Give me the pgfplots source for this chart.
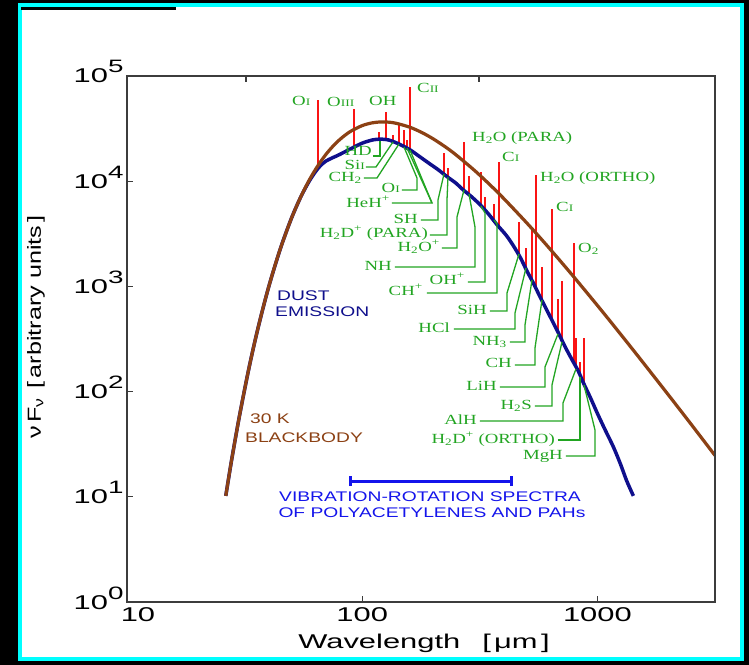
\documentclass[border=0pt]{standalone}
\usepackage{pgfplots}
\usepackage{pgfplotstable}
\pgfplotsset{compat=1.18}
\usepackage{fontspec}
\newfontfamily\axf[FakeStretch=1.55]{Liberation Sans}
\newfontfamily\ylf[FakeStretch=1.33]{Liberation Sans}
\newfontfamily\txf[FakeStretch=1.38]{Liberation Sans}
\newfontfamily\grf[FakeStretch=1.35]{Liberation Serif}
\definecolor{bbrown}{RGB}{140,65,20}
\definecolor{dnavy}{RGB}{15,15,140}
\definecolor{bblue}{RGB}{20,20,235}
\definecolor{lred}{RGB}{250,20,20}
\definecolor{lgreen}{RGB}{34,165,34}
\definecolor{axgray}{RGB}{60,60,60}
\definecolor{frcyan}{RGB}{0,255,255}
\newcommand\rn[1]{{\fontsize{10}{10}\selectfont #1}}
\newcommand\tl[1]{10\raisebox{10bp}{\fontsize{18}{18}\selectfont #1}}
\newcommand\rl[2]{\addplot[lred,line width=2bp] coordinates {(#1,1) (#1,#2)};}

\pgfplotstableread{
lam y
26.3 10.2
27 14.7
28 24.0
30 57.0
31.5 100.4
33 167
34.5 263
36 395
38 642
40 982
42 1430
45 2324
50 4430
55 7228
60 10565
65 14190
70 17890
75 21430
80 24710
85 27610
90 30100
100 33770
110 35830
120 36580
130 36390
140 35450
160 32490
180 28890
200 25320
225 21290
250 17860
300 12680
350 9200
400 6833
500 4028
600 2555
700 1715
800 1205
1000 659
1200 398
1500 212.5
2000 93.5
2500 49.1
3162 24.7
}\bbdata

\pgfplotstableread{
lam y
26.3 10.2
27 14.7
28 24
30 57
33 167
36 395
40 982
45 2324
50 4430
55 7200
60 10300
65 13300
70 15500
80 17900
90 20500
100 23000
111 24700
120 25100
130 24600
145 22300
160 19800
175 17200
194 14600
210 12900
230 11000
250 9600
269 8250
290 7200
318 5940
345 4850
375 3840
410 3050
441 2400
472 1850
500 1420
534 1077
565 830
600 637
640 480
683 360
730 265
781 200
830 156
872 121
935 87
1000 62
1080 43
1170 29.7
1253 20.5
1330 14.3
1422 10.2
}\dustdata

\begin{document}
\begin{tikzpicture}
\begin{scope}[x=1bp,y=-1bp,shift={(-127bp,602bp)}]
  \fill[black] (0,0) rectangle (749,665);
  \draw[frcyan, line width=3.5bp, fill=white] (20,5) rectangle (742,659);
  \fill[black] (21,7) rectangle (176,10);
\end{scope}

\begin{axis}[
  at={(0,0)}, anchor=south west, scale only axis,
  width=588bp, height=526bp,
  xmode=log, ymode=log,
  xmin=10, xmax=3162, ymin=1, ymax=100000,
  xtick={10,100,1000}, xticklabels={{\hspace*{22bp}10},100,1000},
  ytick={1,10,100,1000,10000,100000},
  yticklabels={\tl{0},\tl{1},\tl{2},\tl{3},\tl{4},\tl{5}},
  xminorticks=false, yminorticks=false,
  xtick pos=lower, ytick pos=left,
  major tick length=6bp,
  tick align=inside,
  axis line style={line width=1.3bp, axgray},
  every tick/.style={line width=1.3bp, axgray},
  xticklabel style={font=\axf\fontsize{20}{20}\selectfont, anchor=north, yshift=-2bp},
  yticklabel style={font=\axf\fontsize{20}{20}\selectfont, anchor=base east, yshift=-7bp},
  axis on top,
]
% emission lines
\rl{65.0}{59200}
\rl{92.5}{48500}
\rl{118.1}{29400}
\rl{126.5}{45500}
\rl{135.5}{27500}
\rl{143.7}{35700}
\rl{150.9}{30700}
\rl{155.4}{24700}
\rl{160.1}{78500}
\rl{223.4}{18500}
\rl{232.3}{13300}
\rl{271.6}{23600}
\rl{285.3}{11200}
\rl{320.9}{12200}
\rl{333.7}{7080}
\rl{364.6}{6070}
\rl{382.8}{15200}
\rl{465.7}{4090}
\rl{498.8}{2320}
\rl{528.9}{3670}
\rl{550.1}{11460}
\rl{583.4}{1530}
\rl{643.6}{5450}
\rl{682.3}{759}
\rl{709.7}{1125}
\rl{798.3}{2590}
\rl{813.9}{324}
\rl{846.6}{191}
\rl{880.5}{324}
% hide line parts below dust curve
\addplot[fill=white, draw=none] table[x=lam,y=y] {\dustdata} \closedcycle;
% dust emission
\addplot[dnavy, line width=3.5bp, smooth] table[x=lam,y=y] {\dustdata};
% 30 K blackbody
\addplot[bbrown, line width=3.2bp, smooth] table[x=lam,y=y] {\bbdata};
% range bar
\addplot[bblue, line width=3bp] coordinates {(88.9,14.1) (430.5,14.1)};
\addplot[bblue, line width=3bp] coordinates {(88.9,12.6) (88.9,15.8)};
\addplot[bblue, line width=3bp] coordinates {(430.5,12.6) (430.5,15.8)};
\end{axis}

\begin{scope}[x=1bp,y=-1bp,shift={(-127bp,602bp)}]
  % top ticks
  \draw[axgray, line width=1.3bp] (246,76) -- (246,82);
  \draw[axgray, line width=1.3bp] (479,76) -- (479,82);
  % axis labels
  \node[font=\axf\fontsize{20}{20}\selectfont, inner sep=0] at (424,643) {Wavelength\hspace{22bp}[\,μm\,]};
  \node[rotate=90, font=\ylf\fontsize{19}{19}\selectfont, inner sep=0] at (36,327) {ν\,F\textsubscript{ν}\hspace{10bp}[\,arbitrary units\,]};
  % curve texts
  \begin{scope}[every node/.style={inner sep=0, font=\txf\fontsize{14}{14}\selectfont}]
    \node[text=dnavy, anchor=west] at (277,296) {DUST};
    \node[text=dnavy, anchor=west] at (275,312) {EMISSION};
    \node[text=bbrown, anchor=west] at (250,419) {30 K};
    \node[text=bbrown, anchor=west] at (245,438) {BLACKBODY};
    \node[text=bblue] at (430,497) {VIBRATION-ROTATION SPECTRA};
    \node[text=bblue] at (432,513) {OF POLYACETYLENES AND PAHs};
  \end{scope}
  % leaders
  \begin{scope}[lgreen, line width=1.3bp]
    \draw (373,156)--(380,156)--(380,141);
    \draw (366,167)--(376,167)--(393,142);
    \draw (364,178)--(377,178)--(399,144);
    \draw (402,190)--(417,190)--(417,178)--(404,147);
    \draw (392,203)--(432,203)--(407,148);
    \draw (432,203)--(410,150);
    \draw (421,220)--(438,220)--(438,200)--(444,174);
    \draw (430,235)--(447,235)--(447,200)--(448,177);
    \draw (442,248)--(457,248)--(457,217)--(464,190);
    \draw (395,267)--(475,267)--(475,227)--(469,194);
    \draw (468,282)--(485,282)--(485,213)--(481,206);
    \draw (427,293)--(497,293)--(497,224)--(494,220);
    \draw (490,311)--(507,311)--(507,293)--(519,254);
    \draw (454,329)--(515,329)--(515,313)--(526,268);
    \draw (510,342)--(525,342)--(525,325)--(532,280);
    \draw (515,365)--(535,365)--(535,348)--(542,300);
    \draw (500,387)--(545,387)--(545,367)--(558,334);
    \draw (535,406)--(552,406)--(552,385)--(562,342);
    \draw (480,421)--(563,421)--(563,403)--(576,369);
    \draw (558,440)--(580,440)--(580,377);
    \draw (566,456)--(595,456)--(595,430)--(584,385);
  \end{scope}
  % species labels
  \begin{scope}[every node/.style={inner sep=0, text=lgreen, font=\grf\fontsize{14}{15}\selectfont}]
    \node[anchor=mid west] at (292,103) {O\rn{I}};
    \node[anchor=mid west] at (327,104) {O\rn{III}};
    \node[anchor=mid west] at (369,103) {OH};
    \node[anchor=mid west] at (417,90) {C\rn{II}};
    \node[anchor=mid west] at (472,139) {H\textsubscript{2}O (PARA)};
    \node[anchor=mid west] at (502,159) {C\rn{I}};
    \node[anchor=mid west] at (540,179) {H\textsubscript{2}O (ORTHO)};
    \node[anchor=mid west] at (556,209) {C\rn{I}};
    \node[anchor=mid west] at (578,250) {O\textsubscript{2}};
    \node[anchor=mid east] at (372,153) {HD};
    \node[anchor=mid east] at (365,167) {Si\rn{I}};
    \node[anchor=mid east] at (362,179) {CH\textsubscript{2}};
    \node[anchor=mid east] at (400,190) {O\rn{I}};
    \node[anchor=mid east] at (390,205) {HeH\textsuperscript{+}};
    \node[anchor=mid east] at (418,221) {SH};
    \node[anchor=mid east] at (428,235) {H\textsubscript{2}D\textsuperscript{+} (PARA)};
    \node[anchor=mid east] at (440,249) {H\textsubscript{2}O\textsuperscript{+}};
    \node[anchor=mid east] at (392,268) {NH};
    \node[anchor=mid east] at (465,282) {OH\textsuperscript{+}};
    \node[anchor=mid east] at (423,293) {CH\textsuperscript{+}};
    \node[anchor=mid east] at (487,312) {SiH};
    \node[anchor=mid east] at (450,330) {HCl};
    \node[anchor=mid east] at (507,343) {NH\textsubscript{3}};
    \node[anchor=mid east] at (512,365) {CH};
    \node[anchor=mid east] at (497,388) {LiH};
    \node[anchor=mid east] at (532,407) {H\textsubscript{2}S};
    \node[anchor=mid east] at (477,422) {AlH};
    \node[anchor=mid east] at (555,441) {H\textsubscript{2}D\textsuperscript{+} (ORTHO)};
    \node[anchor=mid east] at (563,457) {MgH};
  \end{scope}
\end{scope}
\pgfresetboundingbox
\path[use as bounding box] (-127bp,-63bp) rectangle (622bp,602bp);
\end{tikzpicture}
\end{document}
